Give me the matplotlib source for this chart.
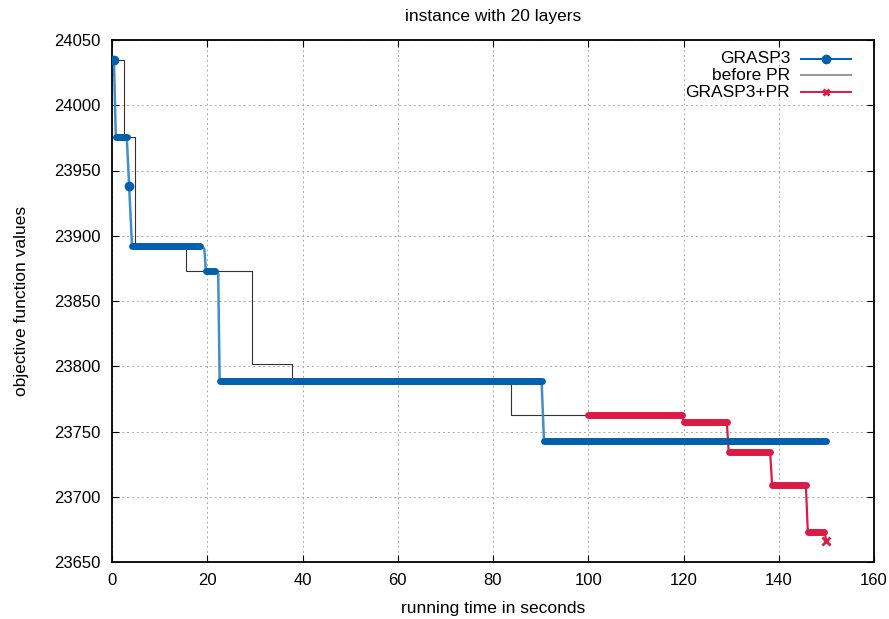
import matplotlib
matplotlib.use('Agg')
import matplotlib.pyplot as plt

plt.rcParams['font.family'] = ['Liberation Sans', 'DejaVu Sans']

# GRASP3 (blue, dense points)
grasp_t = [0.4, 0.8, 3.1, 3.6, 4.2, 18.5, 19.4, 19.7, 21.6, 22.3, 22.6, 90.2, 90.7, 150.0]
grasp_v = [24035, 23976, 23976, 23938, 23892, 23892, 23890, 23873, 23873, 23871, 23789, 23789, 23743, 23743]

# before PR (thin step line)
before_t = [0.4, 2.5, 4.8, 15.5, 29.4, 37.8, 83.8, 100.0]
before_v = [24035, 23976, 23892, 23873, 23802, 23789, 23763, 23763]

# GRASP3+PR (red)
pr_t = [100.0, 119.7, 120.1, 129.1, 129.5, 138.2, 138.6, 145.7, 146.1, 149.6, 150.0]
pr_v = [23763, 23763, 23757, 23757, 23734, 23734, 23709, 23709, 23673, 23673, 23666]

blue = '#0060ad'
red = '#dd1a44'

fig = plt.figure(figsize=(8.89, 6.19), dpi=100)
ax = fig.add_axes([112 / 889, 1 - 562 / 619, 762 / 889, 522 / 619])

# thin connecting lines
ax.step(before_t, before_v, where='post', color='#333333', lw=0.8, zorder=3)
ax.plot(grasp_t, grasp_v, color='#3f8fd0', lw=1.8, zorder=4)
ax.plot(pr_t, pr_v, color=red, lw=1.6, zorder=4)

# dense markers look like thick bands on the flat parts
for tt, vv, c in [(grasp_t, grasp_v, blue), (pr_t, pr_v, red)]:
    for i in range(len(tt) - 1):
        if vv[i] == vv[i + 1]:
            ax.plot([tt[i], tt[i + 1]], [vv[i], vv[i]], color=c, lw=5,
                    solid_capstyle='round', zorder=5)
ax.plot(grasp_t[:1] + grasp_t[3:4], grasp_v[:1] + grasp_v[3:4], 'o', color=blue, ms=6, zorder=6)
ax.plot(pr_t[-1:], pr_v[-1:], 'x', color=red, ms=6, mew=2, zorder=6)

ax.set_xlim(0, 160)
ax.set_ylim(23650, 24050)
ax.set_xticks(range(0, 161, 20))
ax.set_yticks(range(23650, 24051, 50))
ax.grid(True, color='#aaaaaa', lw=0.7, linestyle=(0, (2, 3)))
ax.tick_params(direction='in', top=True, right=True, length=5, labelsize=12, pad=8)
for s in ax.spines.values():
    s.set_linewidth(1.3)

ax.set_title('instance with 20 layers', fontsize=12.5, pad=14)
ax.set_xlabel('running time in seconds', fontsize=12.5, labelpad=9)
ax.set_ylabel('objective function values', fontsize=12.5, labelpad=18)

# gnuplot-style key: right aligned text, sample to the right
key = [('GRASP3', blue, 'o'), ('before PR', '#999999', None), ('GRASP3+PR', red, 'x')]
ys = [0.964, 0.932, 0.900]
for (lab, c, m), y in zip(key, ys):
    ax.text(0.890, y, lab, transform=ax.transAxes, ha='right', va='center', fontsize=12.5)
    ax.plot([0.904, 0.970], [y, y], color=c, lw=1.4, transform=ax.transAxes, clip_on=False)
    if m:
        ax.plot([0.937], [y], marker=m, color=c, ms=5, mew=2, transform=ax.transAxes, clip_on=False)

fig.savefig('out.png', dpi=100)
